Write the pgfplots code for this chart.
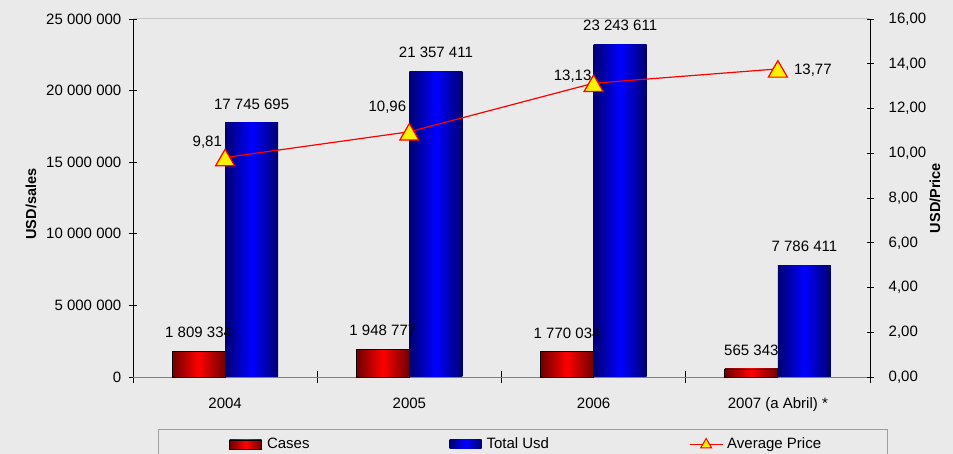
\documentclass[border=0pt]{standalone}
\usepackage{pgfplots}
\pgfplotsset{compat=1.18}
\usepackage{fontspec}
\setmainfont{Liberation Sans}
\definecolor{bg}{HTML}{EAEAEA}
\definecolor{dred}{HTML}{6E0000}
\definecolor{dblue}{HTML}{000070}
\pgfplotsset{barlegend/.style={legend image code/.code={\path[##1] (0bp,-4.5bp) rectangle (32bp,4.5bp); \path (35bp,0bp);}},
  barlab/.style={point meta=explicit symbolic, nodes near coords, forget plot,
    every node near coord/.append style={anchor=base, inner sep=0pt, yshift=13.5bp, text=black}},
  redbar/.style={barlab, bar shift=-0.144, draw=black, line width=0.8bp,
    left color=dred, right color=dred, middle color=red},
  bluebar/.style={barlab, bar shift=0.144, draw=none,
    left color=dblue, right color=dblue, middle color=blue},
  plab/.style={draw=none, mark=none, forget plot, point meta=explicit symbolic, nodes near coords,
    every node near coord/.append style={inner sep=0pt, text=black, #1}}}
\begin{document}
\fontsize{15bp}{18bp}\selectfont
\begin{tikzpicture}
\useasboundingbox (0,0) rectangle (953bp,454bp);
\fill[bg] (0,0) rectangle (953bp,454bp);
\draw[gray!75, line width=0.8bp, fill=bg] (158bp,25bp) rectangle (887bp,-30bp);
\begin{axis}[
  at={(133bp,77bp)}, anchor=south west, scale only axis,
  width=737bp, height=358bp,
  xmin=-0.5, xmax=3.5, ymin=0, ymax=25000000,
  axis x line*=bottom, axis y line*=left,
  x axis line style={draw=gray, line width=1bp},
  y axis line style={draw=black, line width=0.8bp},
  ybar, bar width=0.288,
  xtick={0,1,2,3}, xticklabels={2004,2005,2006,{2007 (a Abril) *}},
  minor xtick={-0.5,0.5,1.5,2.5,3.5},
  major x tick style={draw=none},
  minor tick length=11bp, major tick length=7bp,
  tick align=center,
  tick style={black, line width=0.8bp},
  ytick={0,5000000,10000000,15000000,20000000,25000000},
  yticklabels={0,5 000 000,10 000 000,15 000 000,20 000 000,25 000 000},
  scaled y ticks=false,
  xticklabel style={yshift=-12bp},
  yticklabel style={xshift=-3bp},
  clip=false,
]
\draw[gray!45, line width=1bp] (rel axis cs:0,1) -- (rel axis cs:1,1);
% Cases
\addplot[redbar] coordinates {(0,1809334) [1 809 334]};
\addplot[redbar] coordinates {(1,1948777) [1 948 777]};
\addplot[redbar] coordinates {(2,1770034) [1 770 034]};
\addplot[redbar] coordinates {(3,565343) [565 343]};
% Total Usd
\addplot[bluebar] coordinates {(0,17745695) [17 745 695]};
\addplot[bluebar] coordinates {(1,21357411) [21 357 411]};
\addplot[bluebar] coordinates {(2,23243611) [23 243 611]};
\addplot[bluebar] coordinates {(3,7786411) [7 786 411]};
\node[rotate=90, font=\bfseries\fontsize{14.5bp}{17bp}\selectfont] at (rel axis cs:-0.1384,0.483) {USD/sales};
\end{axis}
\begin{axis}[
  at={(133bp,77bp)}, anchor=south west, scale only axis,
  width=737bp, height=358bp,
  xmin=-0.5, xmax=3.5, ymin=0, ymax=16,
  axis y line*=right, axis x line=none,
  y axis line style={draw=black, line width=0.8bp},
  ytick={0,2,4,6,8,10,12,14,16},
  yticklabels={{0,00},{2,00},{4,00},{6,00},{8,00},{10,00},{12,00},{14,00},{16,00}},
  major tick length=7bp, tick align=center,
  tick style={black, line width=0.8bp},
  yticklabel style={xshift=10bp},
  clip=false,
  legend columns=3,
  legend style={draw=none, fill=none, at={(0.1303,-0.1885)}, anchor=west, inner sep=0pt,
    /tikz/every even column/.append style={column sep=138bp}},
]
\addlegendimage{barlegend, draw=black, line width=0.8bp, left color=dred, right color=dred, middle color=red}
\addlegendentry{Cases}
\addlegendimage{barlegend, draw=none, left color=dblue, right color=dblue, middle color=blue}
\addlegendentry{Total Usd}
\addplot[red, line width=1.2bp, mark=triangle*, mark size=11bp,
  mark options={fill=yellow, draw=red, line width=1.2bp, yshift=-2.75bp},
  legend image code/.code={\draw[red, line width=1.2bp] (0bp,0bp) -- (33bp,0bp);
    \draw[red, line width=1bp, fill=yellow] (16.5bp,6bp) -- (22bp,-3.5bp) -- (11bp,-3.5bp) -- cycle; \path (35bp,0bp);}]
  coordinates {(0,9.81) (1,10.96) (2,13.13) (3,13.77)};
\addlegendentry{Average Price}
\addplot[plab={anchor=base east, xshift=-3bp, yshift=10.5bp}] coordinates {(0,9.81) [{9,81}]};
\addplot[plab={anchor=base east, xshift=-3bp, yshift=20bp}] coordinates {(1,10.96) [{10,96}]};
\addplot[plab={anchor=base east, xshift=-2bp, yshift=3bp}] coordinates {(2,13.13) [{13,13}]};
\addplot[plab={anchor=base west, xshift=16bp, yshift=-5.5bp}] coordinates {(3,13.77) [{13,77}]};
\node[rotate=90, font=\bfseries\fontsize{14.5bp}{17bp}\selectfont] at (rel axis cs:1.0882,0.5) {USD/Price};
\end{axis}
\end{tikzpicture}
\end{document}
